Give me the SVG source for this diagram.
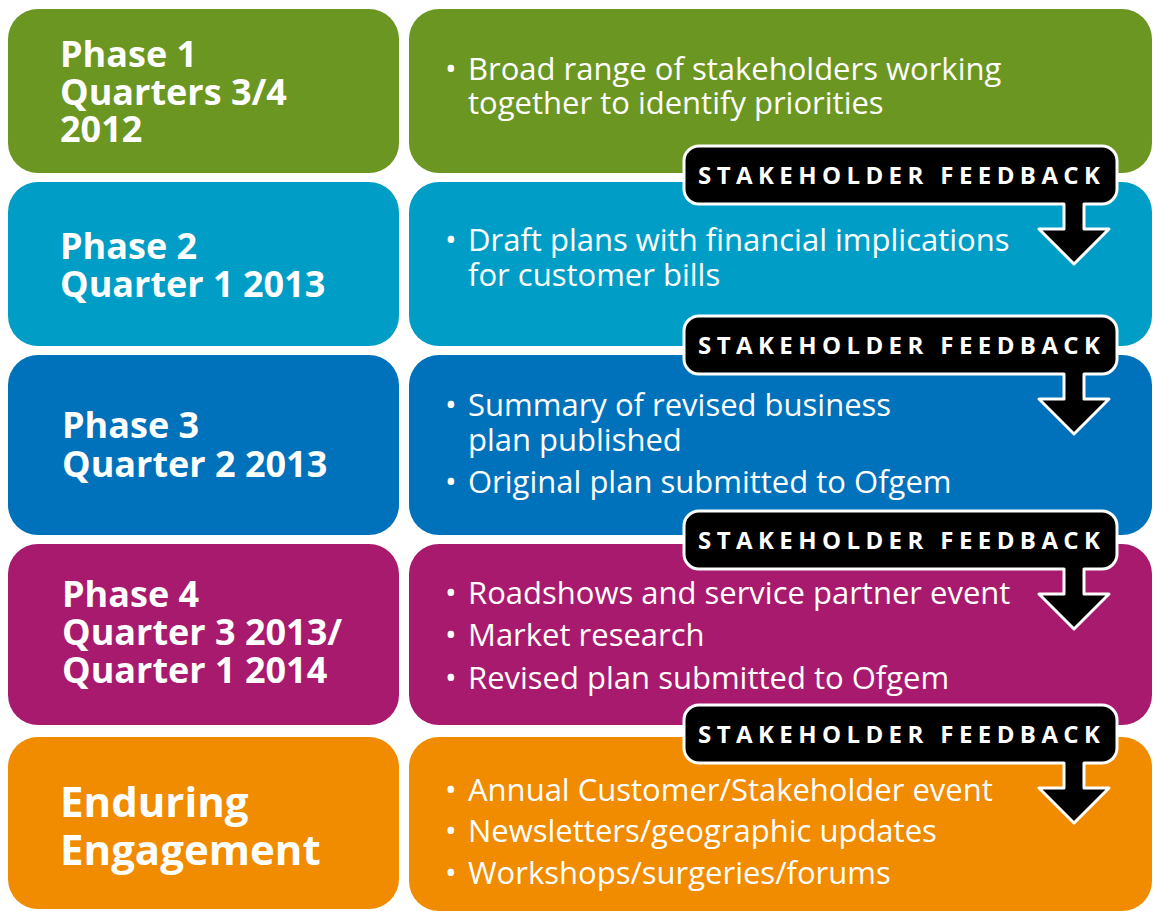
<svg xmlns="http://www.w3.org/2000/svg" width="1153" height="911" viewBox="0 0 1153 911">
<style>
.lbl{font-family:"Open Sans","Noto Sans",sans-serif;font-weight:700;font-size:36px;fill:#fff}
.big{font-size:42px}
.txt{font-family:"Open Sans","Noto Sans",sans-serif;font-weight:400;font-size:31px;fill:#fff}
.ban{fill:#000;stroke:#fff;stroke-width:3;stroke-linejoin:round}
.bt{font-family:"Open Sans","Noto Sans",sans-serif;font-weight:700;font-size:24px;fill:#fff}
.g{fill:#6b9622}.c{fill:#009ec6}.b{fill:#0071bb}.m{fill:#a81a6d}.o{fill:#f18b00}
</style>
<defs>
<path id="fb" class="ban" d="M699,0 H1102 A15,15 0 0 1 1117,15 V43 A15,15 0 0 1 1102,58 H1084 V83 H1109 L1074,118 L1039,83 H1064 V58 H699 A15,15 0 0 1 684,43 V15 A15,15 0 0 1 699,0 Z"/>
</defs>
<rect width="1153" height="911" fill="#fff"/>
<g id="phase1">
<rect class="g" x="8" y="9" width="391" height="164" rx="30"/>
<rect class="g" x="409" y="9" width="743" height="164" rx="30"/>
<text class="lbl"><tspan x="60" y="67">Phase 1</tspan><tspan x="60" y="105">Quarters 3/4</tspan><tspan x="60" y="142">2012</tspan></text>
<text class="txt"><tspan x="445" y="80">•</tspan><tspan x="468" y="80">Broad range of stakeholders working</tspan><tspan x="468" y="114">together to identify priorities</tspan></text>
</g>
<g id="phase2">
<rect class="c" x="8" y="182" width="391" height="164" rx="30"/>
<rect class="c" x="409" y="182" width="743" height="164" rx="30"/>
<text class="lbl"><tspan x="60" y="259">Phase 2</tspan><tspan x="60" y="297">Quarter 1 2013</tspan></text>
<text class="txt"><tspan x="445" y="251">•</tspan><tspan x="468" y="251">Draft plans with financial implications</tspan><tspan x="468" y="286">for customer bills</tspan></text>
</g>
<g id="phase3">
<rect class="b" x="8" y="355" width="391" height="180" rx="30"/>
<rect class="b" x="409" y="355" width="743" height="180" rx="30"/>
<text class="lbl"><tspan x="62" y="438">Phase 3</tspan><tspan x="62" y="477">Quarter 2 2013</tspan></text>
<text class="txt"><tspan x="445" y="416">•</tspan><tspan x="468" y="416">Summary of revised business</tspan><tspan x="468" y="451">plan published</tspan></text>
<text class="txt"><tspan x="445" y="493">•</tspan><tspan x="468" y="493">Original plan submitted to Ofgem</tspan></text>
</g>
<g id="phase4">
<rect class="m" x="8" y="544" width="391" height="181" rx="30"/>
<rect class="m" x="409" y="544" width="743" height="181" rx="30"/>
<text class="lbl"><tspan x="62" y="607">Phase 4</tspan><tspan x="62" y="645">Quarter 3 2013/</tspan><tspan x="62" y="683">Quarter 1 2014</tspan></text>
<text class="txt"><tspan x="445" y="604">•</tspan><tspan x="468" y="604">Roadshows and service partner event</tspan></text>
<text class="txt"><tspan x="445" y="646">•</tspan><tspan x="468" y="646">Market research</tspan></text>
<text class="txt"><tspan x="445" y="689">•</tspan><tspan x="468" y="689">Revised plan submitted to Ofgem</tspan></text>
</g>
<g id="enduring">
<rect class="o" x="8" y="737" width="391" height="172" rx="30"/>
<rect class="o" x="409" y="737" width="743" height="174" rx="30"/>
<text class="lbl big"><tspan x="60" y="817">Enduring</tspan><tspan x="60" y="865">Engagement</tspan></text>
<text class="txt"><tspan x="445" y="801">•</tspan><tspan x="468" y="801">Annual Customer/Stakeholder event</tspan></text>
<text class="txt"><tspan x="445" y="842">•</tspan><tspan x="468" y="842">Newsletters/geographic updates</tspan></text>
<text class="txt"><tspan x="445" y="884">•</tspan><tspan x="468" y="884">Workshops/surgeries/forums</tspan></text>
</g>
<g id="connectors">
<use href="#fb" y="146"/>
<text class="bt" x="698" y="184" textLength="402" lengthAdjust="spacing">STAKEHOLDER FEEDBACK</text>
<use href="#fb" y="316"/>
<text class="bt" x="698" y="354" textLength="402" lengthAdjust="spacing">STAKEHOLDER FEEDBACK</text>
<use href="#fb" y="511"/>
<text class="bt" x="698" y="549" textLength="402" lengthAdjust="spacing">STAKEHOLDER FEEDBACK</text>
<use href="#fb" y="705"/>
<text class="bt" x="698" y="743" textLength="402" lengthAdjust="spacing">STAKEHOLDER FEEDBACK</text>
</g>
</svg>
